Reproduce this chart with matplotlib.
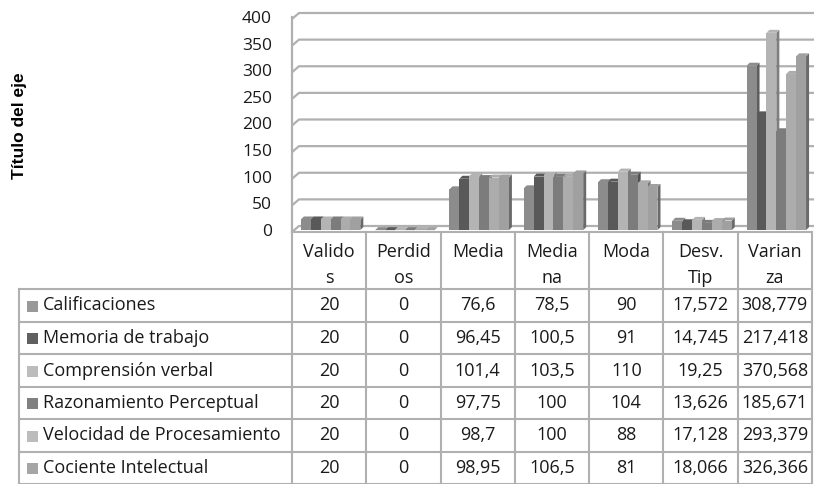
import numpy as np
import matplotlib
matplotlib.use('Agg')
import matplotlib.pyplot as plt
from matplotlib.patches import Polygon, Rectangle

categorias = ['Valido\ns', 'Perdid\nos', 'Media', 'Media\nna', 'Moda', 'Desv.\nTip', 'Varian\nza']
series = ['Calificaciones', 'Memoria de trabajo', 'Comprensión verbal',
          'Razonamiento Perceptual', 'Velocidad de Procesamiento', 'Cociente Intelectual']

calificaciones = [20, 0, 76.6, 78.5, 90, 17.572, 308.779]
memoria = [20, 0, 96.45, 100.5, 91, 14.745, 217.418]
comprension = [20, 0, 101.4, 103.5, 110, 19.25, 370.568]
razonamiento = [20, 0, 97.75, 100, 104, 13.626, 185.671]
velocidad = [20, 0, 98.7, 100, 88, 17.128, 293.379]
cociente = [20, 0, 98.95, 106.5, 81, 18.066, 326.366]

valores = [calificaciones, memoria, comprension, razonamiento, velocidad, cociente]
colores = ['#8c8c8c', '#595959', '#b4b4b4', '#7c7c7c', '#acacac', '#a0a0a0']
lados = ['#5e5e5e', '#2e2e2e', '#7e7e7e', '#505050', '#767676', '#6a6a6a']
cuadros = ['#999999', '#606060', '#bcbcbc', '#808080', '#bcbcbc', '#a6a6a6']
ticks_y = [0, 50, 100, 150, 200, 250, 300, 350, 400]

W, H = 814, 484
fuente = 'Open Sans'
gris = '#b0b0b0'
negro = '#1a1a1a'
tam = 13

fig = plt.figure(figsize=(W / 100, H / 100), dpi=100)

# zona del grafico (pixeles)
x0, x1 = 292, 812
y0, y1 = 232, 19
ax = fig.add_axes([x0 / W, 1 - y0 / H, (x1 - x0) / W, (y0 - y1) / H])
n = len(categorias)
ax.set_xlim(0, n)
ax.set_ylim(0, 400)
ax.axis('off')

px_x = (x1 - x0) / n      # pixeles por unidad en x
px_y = (y0 - y1) / 400    # pixeles por unidad en y

# pared del fondo
gdx, gdy = 7 / px_x, 6 / px_y
for v in ticks_y:
    ax.plot([0, gdx, n + gdx], [v, v + gdy, v + gdy], color=gris, lw=1.6,
            clip_on=False, zorder=1, solid_capstyle='butt')
ax.plot([0, 0], [0, 400 + gdy * 0.3], color=gris, lw=1.6, clip_on=False, zorder=1)

# columnas 3D
ancho = 0.8 / len(series)
inicio = 0.12
base = 3.5
ddx, ddy = 3 / px_x, 3 / px_y
x = np.arange(n)
for j, vals in enumerate(valores):
    xs = x + inicio + j * ancho
    barras = ax.bar(xs, vals, width=ancho, bottom=base, align='edge',
                    color=colores[j], edgecolor='none', zorder=3 + 2 * j)
    for b in barras:
        bx, by = b.get_x(), b.get_y()
        bw, bh = b.get_width(), b.get_height()
        top = by + bh
        lado = Polygon([(bx + bw, by), (bx + bw + ddx, by + ddy),
                        (bx + bw + ddx, top + ddy), (bx + bw, top)],
                       closed=True, facecolor=lados[j], edgecolor='none',
                       zorder=2 + 2 * j, clip_on=False)
        tapa = Polygon([(bx, top), (bx + ddx, top + ddy),
                        (bx + bw + ddx, top + ddy), (bx + bw, top)],
                       closed=True, facecolor=colores[j], edgecolor='none',
                       zorder=2 + 2 * j, clip_on=False)
        ax.add_patch(lado)
        ax.add_patch(tapa)

# etiquetas del eje y
for v in ticks_y:
    ax.text(-20 / px_x, v, str(v), ha='right', va='center', fontsize=12.5,
            family=fuente, color=negro, clip_on=False)

fig.text(20 / W, 1 - 126 / H, 'Título del eje', rotation=90, ha='center',
         va='center', fontsize=12.5, fontweight='bold', family='Liberation Sans')

# tabla de datos
tb = fig.add_axes([0, 0, 1, 1])
tb.set_xlim(0, W)
tb.set_ylim(H, 0)
tb.axis('off')

cols = [x0 + i * px_x for i in range(n + 1)]
filas = [289, 322, 354, 387, 419, 452, 484]
izq = 19
lw_t = 1.5

tb.plot([x0, x1], [y0, y0], color=gris, lw=lw_t)
for yy in filas:
    tb.plot([izq, x1], [yy, yy], color=gris, lw=lw_t)
for cx in cols:
    tb.plot([cx, cx], [y0, H], color=gris, lw=lw_t)
tb.plot([izq, izq], [filas[0], H], color=gris, lw=lw_t)

for i, cat in enumerate(categorias):
    cx = (cols[i] + cols[i + 1]) / 2
    for k, parte in enumerate(cat.split('\n')):
        tb.text(cx, 252 + 26 * k, parte, ha='center', va='center',
                fontsize=tam, family=fuente, color=negro)


def fmt(v):
    return ('%g' % v).replace('.', ',')


for j, nombre in enumerate(series):
    cy = (filas[j] + filas[j + 1]) / 2
    tb.add_patch(Rectangle((27, cy - 5), 11, 11, facecolor=cuadros[j], edgecolor='none'))
    tb.text(43, cy, nombre, ha='left', va='center', fontsize=tam,
            family=fuente, color=negro)
    for i, v in enumerate(valores[j]):
        cx = (cols[i] + cols[i + 1]) / 2
        tb.text(cx, cy, fmt(v), ha='center', va='center', fontsize=tam,
                family=fuente, color=negro)

fig.savefig('out.png', dpi=100)
